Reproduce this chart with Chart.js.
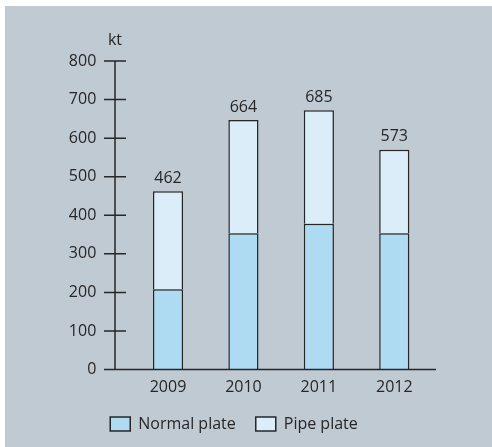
<!DOCTYPE html>
<html>
<head>
<meta charset="utf-8">
<script src="https://cdn.jsdelivr.net/npm/chart.js@4"></script>
<style>
  html, body { margin: 0; padding: 0; background: #ffffff; overflow: hidden; }
  canvas { display: block; }
</style>
</head>
<body>
<canvas id="chart" width="492" height="460"></canvas>
<script>
// data
const years = ['2009', '2010', '2011', '2012'];
const normalPlate = [208, 353, 378, 353];
const pipePlate = [254, 294, 294, 217];
const totals = [462, 664, 685, 573];
const yTicks = [0, 100, 200, 300, 400, 500, 600, 700, 800];

const FONT = "'Open Sans', sans-serif";
const INK = '#262626';

// gray panel behind everything
const panelBg = {
  id: 'panelBg',
  beforeDraw(chart) {
    const ctx = chart.ctx;
    ctx.save();
    ctx.fillStyle = '#c0cad3';
    ctx.fillRect(5, 6, chart.width - 5, chart.height - 6);
    ctx.restore();
  }
};

// axis lines with crossing tick marks, unit label and total labels
const axesAndTotals = {
  id: 'axesAndTotals',
  afterDatasetsDraw(chart) {
    const ctx = chart.ctx;
    const y = chart.scales.y;
    const area = chart.chartArea;
    const axisX = 115;
    const y0 = y.getPixelForValue(0);
    const yTop = y.getPixelForValue(800);

    ctx.save();
    ctx.strokeStyle = INK;
    ctx.lineWidth = 1.5;
    ctx.beginPath();
    ctx.moveTo(axisX, yTop);
    ctx.lineTo(axisX, y0);
    yTicks.forEach(v => {
      const py = y.getPixelForValue(v);
      ctx.moveTo(axisX - 11, py);
      ctx.lineTo(v === 0 ? area.right + 4 : axisX + 11, py);
    });
    ctx.stroke();

    ctx.fillStyle = INK;
    ctx.font = '16px ' + FONT;
    ctx.textAlign = 'center';
    ctx.textBaseline = 'middle';
    ctx.fillText('kt', axisX, 40);

    const meta = chart.getDatasetMeta(1);
    meta.data.forEach((bar, i) => {
      ctx.fillText(String(totals[i]), bar.x, bar.y - 13);
    });
    ctx.restore();
  }
};

new Chart(document.getElementById('chart'), {
  type: 'bar',
  data: {
    labels: years,
    datasets: [{
      label: 'Normal plate',
      data: normalPlate,
      backgroundColor: '#aedbf1',
      borderColor: INK,
      borderWidth: 1.5
    }, {
      label: 'Pipe plate',
      data: pipePlate,
      backgroundColor: '#daedf8',
      borderColor: INK,
      borderWidth: 1.5
    }]
  },
  options: {
    responsive: false,
    animation: false,
    layout: { padding: { left: 36, right: 60, top: 61, bottom: 18 } },
    datasets: {
      bar: { categoryPercentage: 1, barPercentage: 0.4 }
    },
    scales: {
      x: {
        stacked: true,
        offset: true,
        grid: { display: false, drawTicks: false },
        border: { display: false },
        ticks: { color: INK, font: { family: FONT, size: 16 }, padding: 8 },
        afterFit(scale) { scale.height = 26.5; }
      },
      y: {
        stacked: true,
        min: 0,
        max: 800,
        grid: { display: false, drawTicks: false },
        border: { display: false },
        ticks: { stepSize: 100, color: INK, font: { family: FONT, size: 16 }, padding: 34 },
        afterFit(scale) { scale.width = 94.3; }
      }
    },
    plugins: {
      legend: {
        position: 'bottom',
        labels: {
          boxWidth: 20,
          boxHeight: 14,
          padding: 20,
          color: INK,
          font: { family: FONT, size: 16 }
        }
      },
      tooltip: { enabled: false }
    }
  },
  plugins: [panelBg, axesAndTotals]
});
</script>
</body>
</html>
